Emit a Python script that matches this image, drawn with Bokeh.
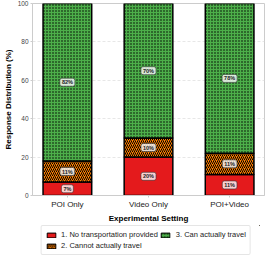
from bokeh.plotting import figure
from bokeh.models import Range1d, ColumnDataSource, Legend, LegendItem
from bokeh.layouts import column
from bokeh.core.properties import value
from bokeh.embed import file_html
from bokeh.resources import INLINE

settings = ["POI Only", "Video Only", "POI+Video"]
no_transport = [7, 20, 11]
cannot_travel = [11, 10, 11]
can_travel = [82, 70, 78]
y_ticks = [0, 20, 40, 60, 80, 100]
series_names = ["1. No transportation provided", "2. Cannot actually travel", "3. Can actually travel"]

x = list(range(len(settings)))
top1 = no_transport
top2 = [a + b for a, b in zip(top1, cannot_travel)]
top3 = [a + b for a, b in zip(top2, can_travel)]

src = ColumnDataSource(dict(
    x=x, b0=[0] * len(x), t1=top1, t2=top2, t3=top3,
    m1=[b / 2 for b in top1],
    m2=[a + b / 2 for a, b in zip(top1, cannot_travel)],
    m3=[a + b / 2 for a, b in zip(top2, can_travel)],
    l1=[f"{v}%" for v in no_transport],
    l2=[f"{v}%" for v in cannot_travel],
    l3=[f"{v}%" for v in can_travel],
))

FONT = "Liberation Sans"
RED, ORANGE, GREEN = "#e41a1c", "#ff7f00", "#4daf4a"
seg_styles = [
    dict(fill_color=RED, line_color="black", line_width=1.5),
    dict(fill_color=ORANGE, line_color="black", line_width=1.5,
         hatch_pattern="right_diagonal_line", hatch_color="black", hatch_scale=4, hatch_weight=1),
    dict(fill_color=GREEN, line_color="black", line_width=1.5,
         hatch_pattern="dot", hatch_color="black", hatch_scale=3, hatch_weight=1),
]

p = figure(frame_width=232, frame_height=192, output_backend="svg", toolbar_location=None,
           x_range=Range1d(-0.43, 2.43), y_range=Range1d(0, 100),
           min_border_left=2, min_border_right=3, min_border_top=3, min_border_bottom=0)

p.vbar(x="x", bottom="b0", top="t1", width=0.6, source=src, **seg_styles[0])
p.vbar(x="x", bottom="t1", top="t2", width=0.6, source=src, **seg_styles[1])
p.vbar(x="x", bottom="t2", top="t3", width=0.6, source=src, **seg_styles[2])

for ycol, tcol in [("m1", "l1"), ("m2", "l2"), ("m3", "l3")]:
    p.text(x="x", y=ycol, text=tcol, source=src,
           text_align="center", text_baseline="middle",
           text_font=value(FONT), text_font_size="5.5px", text_font_style="bold",
           text_color="#222222",
           background_fill_color="white", background_fill_alpha=0.8,
           border_line_color="#333333", border_line_width=0.6,
           padding=(2, 1), border_radius=2)

p.xaxis.ticker = x
p.xaxis.major_label_overrides = {i: s for i, s in enumerate(settings)}
p.yaxis.ticker = y_ticks
p.xaxis.axis_label = "Experimental Setting"
p.yaxis.axis_label = "Response Distribution (%)"
for ax in (p.xaxis, p.yaxis):
    ax.axis_label_text_font = FONT
    ax.axis_label_text_font_style = "bold"
    ax.axis_label_text_font_size = "8px"
    ax.axis_label_text_color = "black"
    ax.major_label_text_font = FONT
    ax.axis_line_color = "#cccccc"
    ax.major_tick_line_color = "#cccccc"
    ax.major_tick_out = 2
    ax.major_tick_in = 0
    ax.minor_tick_line_color = None
    ax.major_label_standoff = 2
    ax.axis_label_standoff = 2
p.xaxis.major_label_text_font_size = "8px"
p.yaxis.major_label_text_font_size = "6.5px"
p.yaxis.major_label_text_color = "#444444"
p.xaxis.major_label_text_color = "#222222"

p.xgrid.grid_line_color = None
p.ygrid.ticker = y_ticks
p.ygrid.grid_line_color = "#dddddd"
p.ygrid.grid_line_dash = "3 2"
p.ygrid.grid_line_width = 0.7
p.outline_line_color = "#cccccc"

# legend in its own strip below; its swatch renderers sit outside the visible range
lg = figure(width=262, height=30, output_backend="svg", toolbar_location=None,
            x_range=Range1d(0, 1), y_range=Range1d(0, 1), min_border=0)
lg.axis.visible = False
lg.grid.grid_line_color = None
lg.outline_line_color = None
swatch = ColumnDataSource(dict(x=[10], b=[10], t=[11]))
rs = [lg.vbar(x="x", bottom="b", top="t", width=0.1, source=swatch, **st) for st in seg_styles]
for r in rs:
    r.glyph.line_width = 1
legend = Legend(items=[LegendItem(label=n, renderers=[r]) for n, r in zip(series_names, rs)],
                ncols=2, location="center", orientation="vertical")
legend.label_text_font = FONT
legend.label_text_font_size = "7.5px"
legend.label_text_color = "#222222"
legend.glyph_width = 11
legend.glyph_height = 6
legend.label_height = 7
legend.label_standoff = 5
legend.spacing = 2
legend.padding = 4
legend.margin = 0
legend.border_line_color = "#cccccc"
legend.border_radius = 2
lg.add_layout(legend, "center")

layout = column(p, lg, spacing=0)
open("out.html", "w").write(file_html(layout, INLINE))
